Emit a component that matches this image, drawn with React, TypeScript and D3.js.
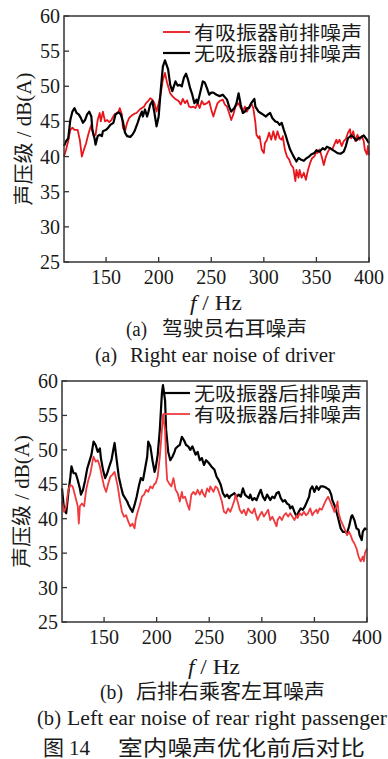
import React from "react";
import * as d3 from "d3";

// ---------- data (Hz, dB(A)) ----------
const topBlackHz = [110,112,114,116,118,120,122,124,126,128,130,132,134,136,137,139,140,142,144,146,147,150,152,154,157,159,162,164,166,168,170,173,175,177,180,182,184,185,187,189,190,192,194,196,198,200,202,204,206,209,211,213,216,218,220,222,224,226,228,230,232,234,236,237,239,242,244,246,248,250,252,255,258,261,265,267,269,272,274,276,278,280,282,284,286,288,291,292,295,297,299,302,304,306,308,311,313,315,317,319,321,323,325,328,331,333,335,338,340,343,345,348,350,353,356,358,360,363,365,368,370,373,376,378,380,383,385,388,390,393,395,398,400];
const topBlackDb = [41.5,42.2,42.6,45.2,46.4,46.9,46.2,46.0,45.5,44.8,45.2,46.0,46.4,45.7,43.8,42.6,41.7,42.9,43.1,42.9,43.6,43.8,44.1,44.5,44.8,46.0,46.3,46.0,45.0,43.4,42.9,42.8,43.1,43.6,44.8,45.7,46.4,45.7,46.7,45.7,46.2,47.4,47.9,46.2,44.3,45.7,49.5,52.8,53.7,52.4,50.2,49.3,50.7,50.1,50.2,50.0,51.2,51.8,50.9,49.7,48.8,47.6,48.1,47.6,48.8,50.7,50.5,49.7,48.8,49.1,49.1,48.8,48.6,48.8,48.1,47.1,46.4,46.9,47.6,49.0,47.4,46.2,46.4,46.9,46.9,47.6,48.2,47.1,46.4,46.2,46.0,45.7,46.0,46.2,45.5,45.0,44.9,44.5,44.8,43.8,42.9,41.9,41.0,40.1,39.3,39.8,39.6,39.4,39.7,40.0,40.3,40.5,40.9,40.7,41.2,41.0,41.4,41.2,41.0,40.7,40.5,40.4,40.7,41.5,42.6,43.0,42.8,42.3,42.6,42.8,43.0,42.4,41.9];

const topRedHz = [110,112,114,116,118,120,123,125,127,129,131,133,135,136,138,140,142,144,145,147,149,151,153,155,158,160,162,163,165,166,168,170,172,174,177,179,182,184,186,188,190,192,194,196,198,200,202,204,206,208,211,213,215,217,219,221,223,225,227,229,231,233,235,237,239,241,243,246,248,250,252,254,256,258,261,263,265,267,269,271,273,276,278,280,282,284,286,288,290,292,293,295,296,298,300,301,303,305,307,309,311,313,315,317,318,320,322,324,326,328,330,331,333,334,336,338,340,342,344,346,348,350,351,353,355,357,359,361,363,365,367,369,370,372,374,376,378,380,382,383,385,387,389,391,393,395,396,398,399,400];
const topRedDb = [40.0,41.0,42.2,43.8,44.1,43.8,43.8,42.4,40.0,41.0,41.9,43.1,44.1,44.5,43.0,43.1,45.2,46.2,45.0,46.4,45.0,45.2,44.9,45.2,46.0,46.2,46.4,46.9,46.0,44.1,43.6,44.8,45.5,45.8,46.1,46.2,46.7,46.9,47.1,47.6,47.9,48.3,48.1,47.6,46.4,47.6,49.0,50.9,51.9,50.5,49.0,48.6,48.3,48.1,47.9,47.4,48.2,47.6,48.0,47.1,47.0,47.1,46.9,47.6,46.9,47.9,47.4,47.6,47.9,46.7,45.7,46.7,47.6,47.9,48.1,47.4,47.1,46.2,45.2,46.0,47.1,47.6,46.9,46.4,47.1,46.4,47.1,47.6,46.9,44.8,43.1,42.6,42.9,41.0,40.5,41.9,42.4,43.4,42.4,43.6,42.4,43.6,42.6,42.4,42.9,41.0,40.0,39.6,38.8,38.4,36.5,38.1,37.0,38.1,37.0,37.7,36.7,38.1,39.1,39.8,40.0,40.7,40.5,41.0,40.0,38.8,40.0,40.7,41.2,41.0,41.7,42.4,41.9,42.4,41.5,42.2,42.5,43.4,43.9,42.6,43.6,42.2,43.1,42.4,42.9,42.2,41.0,40.3,41.5,40.2];

const botBlackHz = [110,112,114,116,118,119,121,123,125,127,128,130,132,134,136,138,140,142,144,146,147,149,151,153,155,157,159,160,162,164,166,168,170,172,173,175,177,179,181,183,185,187,189,191,192,194,196,198,199,201,203,205,206,208,209,211,213,215,217,218,220,222,224,226,228,230,232,234,236,237,239,241,243,245,247,249,252,255,257,259,261,263,265,267,269,270,272,274,276,278,280,282,284,286,288,289,291,293,295,297,299,301,303,305,307,308,310,312,314,316,318,320,322,324,326,327,329,331,333,335,337,339,341,343,345,346,348,350,352,354,356,358,360,362,364,366,367,369,371,373,375,377,379,381,383,385,386,388,390,392,393,395,396,398,400];
const botBlackDb = [44.4,41.3,40.8,43.7,46.1,47.6,46.6,46.6,45.6,44.4,43.5,44.2,45.6,47.3,48.3,49.3,51.2,50.7,49.7,50.2,48.8,47.1,45.9,46.6,47.6,48.5,50.2,51.0,48.5,46.1,44.7,43.5,43.0,42.5,42.1,41.5,41.0,42.0,43.2,44.7,45.9,45.6,47.3,49.0,51.2,50.5,48.5,46.8,47.3,49.3,52.9,58.2,59.4,57.2,52.9,49.7,48.5,49.0,49.7,50.2,50.5,50.7,51.9,51.4,50.7,50.5,50.0,50.5,49.7,49.3,49.7,48.5,48.8,47.8,48.5,48.2,47.6,47.1,46.1,45.6,44.9,43.7,43.2,43.5,43.0,43.3,43.5,43.7,43.2,43.5,43.2,44.4,43.5,43.2,43.0,43.5,42.7,43.0,42.7,43.5,44.2,43.2,42.7,43.5,43.0,42.7,43.2,43.0,43.7,43.9,43.0,42.5,42.7,42.2,42.0,41.5,41.8,41.0,40.3,41.0,41.5,41.3,41.8,42.5,43.2,44.2,44.7,43.9,44.7,44.2,44.7,44.7,44.6,44.4,44.2,43.5,42.7,42.0,41.0,39.8,38.6,38.1,38.1,37.9,38.9,40.3,40.5,39.8,38.6,38.4,37.6,36.9,38.1,38.6,38.4];

const botRedHz = [110,112,114,116,118,120,121,123,125,126,127,129,131,133,135,137,139,140,142,144,146,148,150,152,154,156,158,160,161,163,165,167,169,171,173,175,177,179,180,182,184,186,188,190,192,194,196,198,199,201,203,205,206,208,209,210,212,214,216,218,220,222,224,225,227,229,231,233,235,237,239,241,243,244,246,248,250,251,254,256,258,260,262,264,266,268,270,272,274,275,277,279,281,283,285,287,289,291,293,294,296,298,300,302,304,306,308,310,312,314,315,317,319,321,323,325,327,329,331,333,334,336,338,340,342,344,346,348,350,352,353,355,357,359,361,363,365,367,369,371,372,373,375,377,379,381,383,385,386,388,390,392,394,396,397,398,400];
const botRedDb = [42.5,41.0,41.8,44.2,44.9,44.7,44.2,43.0,41.8,39.3,41.8,42.2,41.8,44.2,45.6,46.6,48.3,49.0,48.3,48.5,47.6,46.1,44.7,43.9,45.1,46.1,46.4,46.8,46.1,44.7,42.7,41.0,40.3,40.5,39.6,38.9,39.3,38.6,39.8,41.0,42.0,43.2,43.5,44.2,43.9,44.7,44.4,45.1,45.1,46.1,49.0,52.9,55.1,52.9,48.1,45.6,45.1,44.7,45.9,44.2,43.7,42.5,43.9,43.0,43.2,42.2,41.3,43.5,43.9,43.5,44.2,43.5,44.2,43.7,43.2,44.4,43.9,44.7,43.9,44.7,44.4,43.5,42.5,41.0,40.8,41.5,41.0,41.8,42.7,43.5,42.5,41.3,40.8,41.3,40.5,41.5,41.0,40.8,41.5,40.8,39.8,40.5,41.0,40.3,40.8,41.3,39.8,40.3,39.6,38.9,39.8,40.3,39.8,40.5,40.8,40.3,40.8,40.3,39.8,40.5,40.1,40.8,40.5,41.0,40.5,40.8,41.5,40.5,41.0,41.3,40.8,41.5,41.3,42.0,42.7,43.2,42.5,41.8,41.0,41.8,42.5,40.8,39.8,39.1,38.4,37.6,38.1,37.4,36.9,36.4,35.7,34.5,33.8,34.5,33.8,35.0,35.7];

const xTicks = [150, 200, 250, 300, 350, 400];
const yTicks = [25, 30, 35, 40, 45, 50, 55, 60];
const topLegend = ["有吸振器前排噪声", "无吸振器前排噪声"];
const botLegend = ["无吸振器后排噪声", "有吸振器后排噪声"];
const yLabel = "声压级 / dB(A)";
const capA = ["(a)", "驾驶员右耳噪声", "(a)", "Right ear noise of driver"];
const capB = ["(b)", "后排右乘客左耳噪声", "(b)", "Left ear noise of rear right passenger"];
const figCap = ["图", "14", "室内噪声优化前后对比"];

const FONT = "'Liberation Serif', 'Noto Sans CJK SC', serif";
const SERIF = "'Liberation Serif', serif";
const TXT = "#1a1a1a";

type Series = { hz: number[]; db: number[]; color: string; width: number };

function T(props: { x: number; y: number; w?: number; size?: number; anchor?: string; font?: string; children: React.ReactNode; transform?: string }) {
  const extra: any = props.w ? { textLength: props.w, lengthAdjust: "spacingAndGlyphs" } : {};
  return (
    <text x={props.x} y={props.y} dy="0.35em" transform={props.transform} textAnchor={props.anchor || "start"}
      style={{ fontFamily: props.font || FONT, fontSize: props.size || 20, fill: TXT }} {...extra}>{props.children}</text>
  );
}

function Panel(props: {
  x0: number; x1: number; y0: number; y1: number;
  series: Series[];
  legend: { label: string; color: string; width: number }[];
  legendY: number[];
  labelX: number;
}) {
  const { x0, x1, y0, y1, series, legend, legendY, labelX } = props;
  const xs = d3.scaleLinear().domain([110, 400]).range([x0, x1]);
  const ys = d3.scaleLinear().domain([25, 60]).range([y1, y0]);
  const line = d3.line<[number, number]>().x(d => xs(d[0])).y(d => ys(d[1]));
  const cy = (y0 + y1) / 2;
  return (
    <g>
      {series.map((s, i) => (
        <path key={i} d={line(s.hz.map((h, j) => [h, s.db[j]] as [number, number])) || ""}
          fill="none" stroke={s.color} strokeWidth={s.width} strokeLinejoin="round" />
      ))}
      <rect x={x0} y={y0} width={x1 - x0} height={y1 - y0} fill="none" stroke="#333" strokeWidth={1.5} />
      {xTicks.map(t => (
        <g key={"x" + t}>
          <line x1={xs(t)} x2={xs(t)} y1={y1} y2={y1 - 5} stroke="#333" strokeWidth={1.3} />
          <T x={xs(t)} y={y1 + 15} anchor="middle" font={SERIF}>{t}</T>
        </g>
      ))}
      {yTicks.map(t => (
        <g key={"y" + t}>
          <line x1={x0} x2={x0 + 5} y1={ys(t)} y2={ys(t)} stroke="#333" strokeWidth={1.3} />
          <T x={x0 - 4} y={ys(t)} anchor="end" font={SERIF}>{t}</T>
        </g>
      ))}
      <T x={0} y={0} transform={`translate(${labelX},${cy}) rotate(-90)`} anchor="middle" w={133}>{yLabel}</T>
      {legend.map((l, i) => (
        <g key={"l" + i}>
          <line x1={163} x2={190} y1={legendY[i]} y2={legendY[i]} stroke={l.color} strokeWidth={l.width} />
          <T x={194} y={legendY[i] + 1} size={19} w={168}>{l.label}</T>
        </g>
      ))}
    </g>
  );
}

export default function App() {
  const redTop = "#e8161c";
  const redBot = "#f03a3e";
  return (
    <svg width={388} height={759} style={{ position: "absolute", left: 0, top: 0, background: "#fff" }}>
      <rect width={388} height={759} fill="#fff" />
      <Panel x0={64} x1={369} y0={16} y1={262} labelX={24}
        series={[
          { hz: topRedHz, db: topRedDb, color: redTop, width: 1.8 },
          { hz: topBlackHz, db: topBlackDb, color: "#000", width: 2.2 },
        ]}
        legend={[
          { label: topLegend[0], color: redTop, width: 1.8 },
          { label: topLegend[1], color: "#000", width: 2.2 },
        ]}
        legendY={[32, 53]}
      />
      <T x={190} y={303} w={52} font={SERIF}><tspan fontStyle="italic">f</tspan> / Hz</T>
      <T x={126} y={329} w={21} font={SERIF}>{capA[0]}</T>
      <T x={162} y={329} w={145}>{capA[1]}</T>
      <T x={95} y={355} w={22} font={SERIF}>{capA[2]}</T>
      <T x={130} y={355} w={205} font={SERIF}>{capA[3]}</T>

      <Panel x0={62} x1={367} y0={381} y1={622} labelX={22}
        series={[
          { hz: botBlackHz, db: botBlackDb, color: "#000", width: 2.2 },
          { hz: botRedHz, db: botRedDb, color: redBot, width: 1.8 },
        ]}
        legend={[
          { label: botLegend[0], color: "#000", width: 2.2 },
          { label: botLegend[1], color: redBot, width: 1.8 },
        ]}
        legendY={[393, 414]}
      />
      <T x={188} y={667} w={52} font={SERIF}><tspan fontStyle="italic">f</tspan> / Hz</T>
      <T x={100} y={692} w={23} font={SERIF}>{capB[0]}</T>
      <T x={136} y={692} w={189}>{capB[1]}</T>
      <T x={37} y={718} w={24} font={SERIF}>{capB[2]}</T>
      <T x={67} y={718} w={320} font={SERIF}>{capB[3]}</T>
      <T x={43} y={748} w={21} size={21}>{figCap[0]}</T>
      <T x={69} y={748} w={21} size={21} font={SERIF}>{figCap[1]}</T>
      <T x={118} y={748} w={247} size={21}>{figCap[2]}</T>
    </svg>
  );
}
